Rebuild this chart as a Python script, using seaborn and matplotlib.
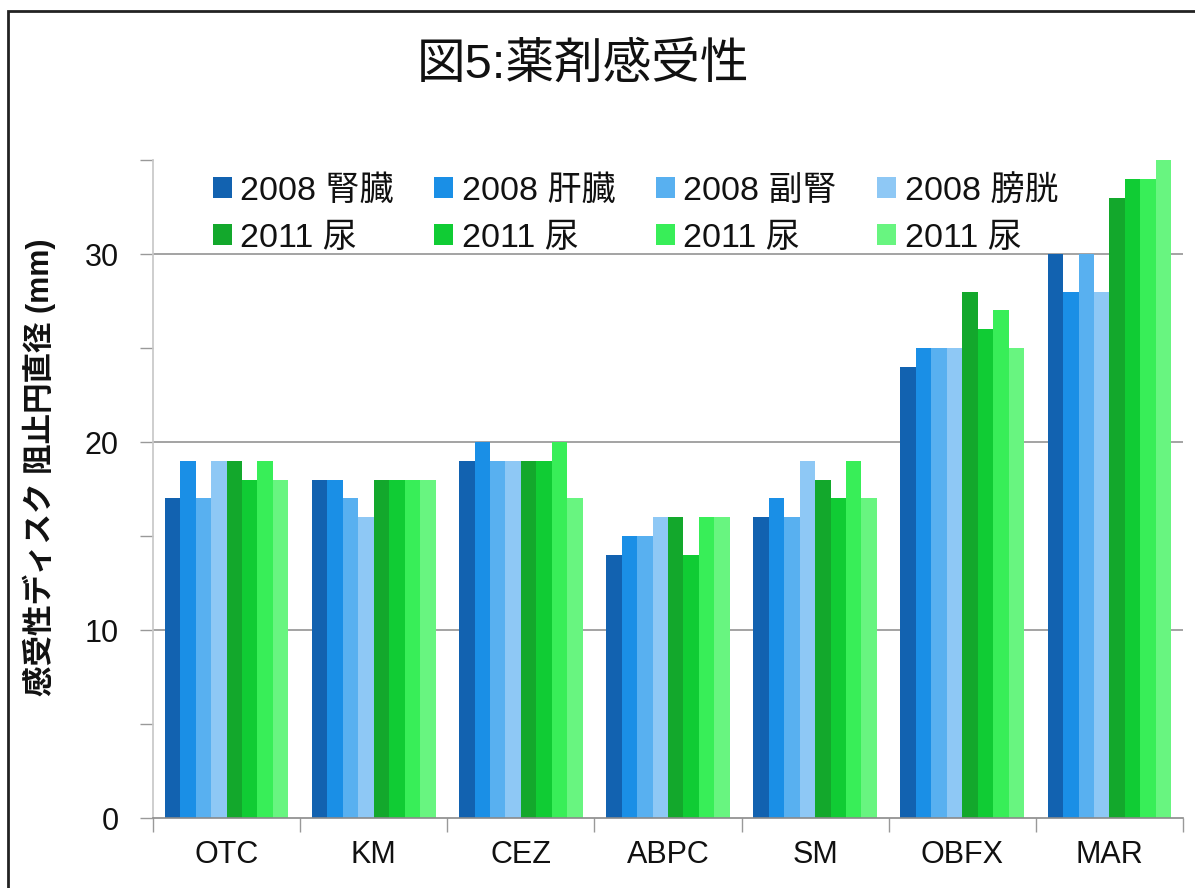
import matplotlib
matplotlib.use("Agg")
import matplotlib.pyplot as plt
from matplotlib.patches import Rectangle
from matplotlib.ticker import MultipleLocator
import seaborn as sns
import pandas as pd

# ---- data ----
categories = ["OTC", "KM", "CEZ", "ABPC", "SM", "OBFX", "MAR"]
series_labels = ["2008 腎臓", "2008 肝臓", "2008 副腎", "2008 膀胱",
                 "2011 尿", "2011 尿", "2011 尿", "2011 尿"]
s2008_kidney  = [17, 18, 19, 14, 16, 24, 30]
s2008_liver   = [19, 18, 20, 15, 17, 25, 28]
s2008_adrenal = [17, 17, 19, 15, 16, 25, 30]
s2008_bladder = [19, 16, 19, 16, 19, 25, 28]
s2011_urine1  = [19, 18, 19, 16, 18, 28, 33]
s2011_urine2  = [18, 18, 19, 14, 17, 26, 34]
s2011_urine3  = [19, 18, 20, 16, 19, 27, 34]
s2011_urine4  = [18, 18, 17, 16, 17, 25, 35]
series_values = [s2008_kidney, s2008_liver, s2008_adrenal, s2008_bladder,
                 s2011_urine1, s2011_urine2, s2011_urine3, s2011_urine4]
colors = ["#1262b0", "#1a8fe6", "#58b0f0", "#8ec8f5",
          "#13a82c", "#10cc34", "#38ee58", "#68f580"]
yticks = [0, 10, 20, 30]

rows = []
for i, vals in enumerate(series_values):
    for c, v in zip(categories, vals):
        rows.append({"cat": c, "series": f"s{i}", "value": v})
df = pd.DataFrame(rows)
keys = [f"s{i}" for i in range(len(series_values))]
palette = dict(zip(keys, colors))

sns.set_theme(style="white")
fam = ["Liberation Sans", "Noto Sans CJK JP", "DejaVu Sans"]
plt.rcParams["font.family"] = fam

fig = plt.figure(figsize=(11.95, 8.88), dpi=100)
ax = fig.add_axes([153/1195, 1 - 818/888, (1183 - 153)/1195, (818 - 160)/888])

sns.barplot(data=df, x="cat", y="value", hue="series", hue_order=keys,
            order=categories, palette=palette, width=0.84, saturation=1,
            edgecolor="none", linewidth=0, ax=ax, legend=False)

ax.set_xlim(-0.5, len(categories) - 0.5)
ax.set_ylim(0, 35)
ax.set_yticks(yticks)
ax.yaxis.set_minor_locator(MultipleLocator(5))
ax.tick_params(axis="y", which="both", direction="out", length=9.5, width=1,
               color="#999999", left=True, labelsize=22, pad=15)
ax.set_xticks(range(len(categories)), categories)
ax.set_xticks([i - 0.5 for i in range(len(categories) + 1)], minor=True)
ax.tick_params(axis="x", which="major", length=0, labelsize=22, pad=16)
ax.tick_params(axis="x", which="minor", direction="out", length=10,
               width=1, color="#999999", bottom=True)
for lab in ax.get_xticklabels() + ax.get_yticklabels():
    lab.set_color("#111111")

ax.grid(False)
for y in [10, 20, 30]:
    ax.axhline(y, color="#8a8a8a", lw=1.1, zorder=0)
ax.set_axisbelow(True)
for s in ["top", "right"]:
    ax.spines[s].set_visible(False)
ax.spines["left"].set_color("#c8c8c8")
ax.spines["bottom"].set_color("#8a8a8a")
ax.spines["bottom"].set_linewidth(1.2)

ax.set_xlabel("")
ax.set_ylabel("感受性ディスク 阻止円直径 (mm)", fontsize=22, fontweight="bold",
              color="#111111")
ax.yaxis.set_label_coords(-0.094, 0.533)

handles = [Rectangle((0, 0), 1, 1, facecolor=c, edgecolor="none") for c in colors]
order = [0, 4, 1, 5, 2, 6, 3, 7]
leg = fig.legend([handles[i] for i in order], [series_labels[i] for i in order],
                 ncol=4, loc="upper left",
                 bbox_to_anchor=(189/1195, 1 - 151/888), frameon=False,
                 fontsize=24.5, handlelength=0.55, handleheight=0.55,
                 handletextpad=0.25, columnspacing=1.2, labelspacing=0.47,
                 borderpad=0.2)
for t in leg.get_texts():
    t.set_color("#111111")

fig.text(583/1195, 1 - 65/888, "図5:薬剤感受性", ha="center", va="center",
         fontsize=35, color="#111111")

fig.patches.append(Rectangle((8/1195, -0.1), 2.0, (888 - 11)/888 + 0.1,
                             transform=fig.transFigure, fill=False,
                             edgecolor="#222222", lw=2, figure=fig))

fig.savefig("out.png", dpi=100, facecolor="white")
